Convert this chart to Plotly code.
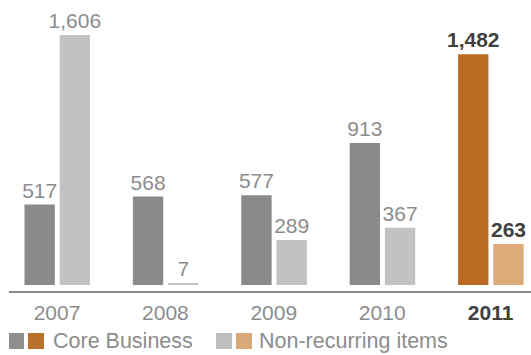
import plotly.graph_objects as go

years = ["2007", "2008", "2009", "2010", "2011"]
core_business = [517, 568, 577, 913, 1482]
non_recurring = [1606, 7, 289, 367, 263]

W, H = 531, 355
PLOT_L, PLOT_R, PLOT_T, PLOT_B = 9, 531, 0, 293  # plot area in pixels

FONT = "Liberation Sans"
GREY_TXT = "#8c8c8c"
DARK_TXT = "#404040"

core_colors = ["#8a8a8a"] * 4 + ["#b96b22"]
nonrec_colors = ["#c2c2c2"] * 4 + ["#dcab79"]

x = list(range(len(years)))
last = len(years) - 1


def labels(vals):
    out = []
    for i, v in enumerate(vals):
        s = f"{v:,}"
        out.append(f"<b>{s}</b>" if i == last else s)
    return out


txt_colors = [GREY_TXT] * 4 + [DARK_TXT]

fig = go.Figure()
fig.add_bar(
    x=x, y=core_business, width=0.28, offset=-0.30,
    marker=dict(color=core_colors, line=dict(width=0)),
    text=labels(core_business), textposition="outside", cliponaxis=False,
    constraintext="none",
    textfont=dict(family=FONT, size=21, color=txt_colors),
    name="Core Business", showlegend=False,
)
fig.add_bar(
    x=x, y=non_recurring, width=0.28, offset=0.025,
    marker=dict(color=nonrec_colors, line=dict(width=0)),
    text=labels(non_recurring), textposition="outside", cliponaxis=False,
    constraintext="none",
    textfont=dict(family=FONT, size=21, color=txt_colors),
    name="Non-recurring items", showlegend=False,
)

# y scale: 1606 reaches 250 px above the baseline, baseline sits 8 px above the axis line
px_per_unit = 250 / 1606
plot_h = PLOT_B - PLOT_T
y_min = -8 / px_per_unit
y_max = y_min + plot_h / px_per_unit

step_px = 108.4
x_min = -(57 - PLOT_L) / step_px
x_max = x_min + (PLOT_R - PLOT_L) / step_px

ticktext = years[:-1] + [f"<span style='color:{DARK_TXT}'><b>{years[-1]}</b></span>"]


def px_x(p):
    return (p - PLOT_L) / (PLOT_R - PLOT_L)


def px_y(p):
    return (PLOT_B - p) / plot_h


shapes = [
    dict(type="line", xref="paper", yref="paper", x0=0, x1=1,
         y0=px_y(292), y1=px_y(292), line=dict(color="#8a8a8a", width=2)),
]
legend_boxes = [
    (9, 24, "#8e8e90"), (28, 44, "#b8702a"),
    (216, 232, "#bebec0"), (236, 252, "#d9a97a"),
]
for x0, x1, c in legend_boxes:
    shapes.append(dict(type="rect", xref="paper", yref="paper",
                       x0=px_x(x0), x1=px_x(x1), y0=px_y(349), y1=px_y(333),
                       fillcolor=c, line=dict(width=0)))

annotations = [
    dict(text="Core Business", x=px_x(51), y=px_y(341), xref="paper", yref="paper",
         xanchor="left", yanchor="middle", showarrow=False,
         font=dict(family=FONT, size=21.5, color=GREY_TXT)),
    dict(text="Non-recurring items", x=px_x(257), y=px_y(341), xref="paper", yref="paper",
         xanchor="left", yanchor="middle", showarrow=False,
         font=dict(family=FONT, size=21.5, color=GREY_TXT)),
]

fig.update_layout(
    width=W, height=H,
    margin=dict(l=PLOT_L, r=W - PLOT_R, t=PLOT_T, b=H - PLOT_B, pad=0),
    paper_bgcolor="white", plot_bgcolor="white",
    barmode="overlay",
    showlegend=False,
    xaxis=dict(range=[x_min, x_max], tickmode="array", tickvals=x, ticktext=ticktext,
               showgrid=False, zeroline=False, showline=False, ticks="",
               tickfont=dict(family=FONT, size=21, color=GREY_TXT),
               ticklabelstandoff=5),
    yaxis=dict(range=[y_min, y_max], visible=False),
    shapes=shapes,
    annotations=annotations,
    font=dict(family=FONT, color=GREY_TXT),
)

fig.write_html("out.html")
